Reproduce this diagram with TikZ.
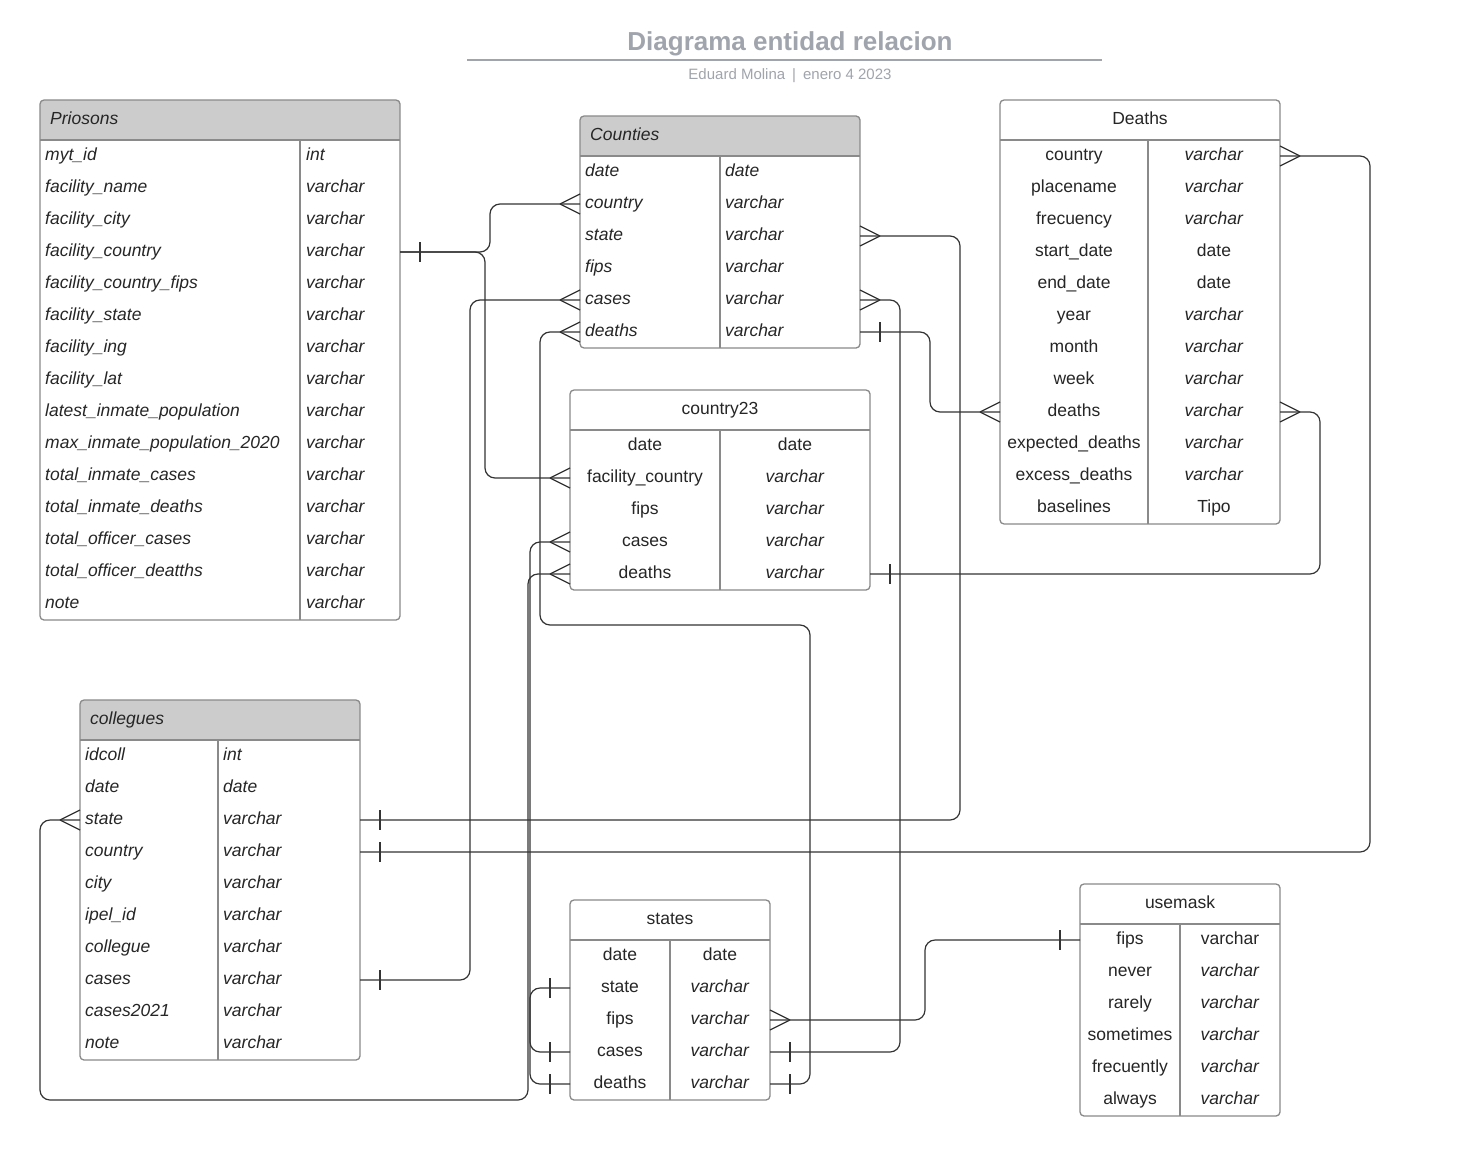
\documentclass[tikz,border=0pt]{standalone}
\usepackage{fontspec}
\setmainfont{Liberation Sans}
\usetikzlibrary{calc}
\definecolor{hdrgray}{HTML}{CCCCCC}
\definecolor{tline}{HTML}{8A8A8A}
\definecolor{cline}{HTML}{333333}
\definecolor{ttl}{HTML}{A0A4AC}
\definecolor{txt}{HTML}{262626}
\newcommand\rowfont{\fontsize{17.5}{20}\selectfont}
\newcommand\vc{\textit{varchar}}
\tikzset{
  conn/.style={draw=cline, line width=1.2pt, rounded corners=10},
  ermk/.style={draw=cline, line width=1.2pt},
  frame/.style={draw=tline, line width=1.3pt},
  rowbox/.style={minimum width=#1, minimum height=32, inner sep=0, outer sep=0, draw=none},
  cell/.style={inner sep=0, font=\rowfont, text height=12, text depth=4, text=txt},
  celli/.style={cell, font=\rowfont\itshape},
}
\newcommand\crowW[1]{\draw[ermk] ($(#1.west)+(-20,0)$) -- ($(#1.west)+(0,-10)$) ($(#1.west)+(-20,0)$) -- ($(#1.west)+(0,10)$);}
\newcommand\crowE[1]{\draw[ermk] ($(#1.east)+(20,0)$) -- ($(#1.east)+(0,-10)$) ($(#1.east)+(20,0)$) -- ($(#1.east)+(0,10)$);}
\newcommand\barW[1]{\draw[ermk] ($(#1.west)+(-20,-10)$) -- ($(#1.west)+(-20,10)$);}
\newcommand\barE[1]{\draw[ermk] ($(#1.east)+(20,-10)$) -- ($(#1.east)+(20,10)$);}
\newcommand\erframe[6]{%
  \begin{scope}\clip[rounded corners=4] (#1,#2) rectangle (#3,#4); \fill[#6] (#1,#2) rectangle (#3,{#2+40}); \end{scope}
  \draw[frame, rounded corners=4] (#1,#2) rectangle (#3,#4);
  \draw[frame] (#1,{#2+40}) -- (#3,{#2+40}) (#5,{#2+40}) -- (#5,#4);
}
\begin{document}
\begin{tikzpicture}[x=1pt,y=-1pt]
\useasboundingbox[fill=white] (0,0) rectangle (1458,1156);

% title
\node[font=\fontsize{26}{30}\selectfont\bfseries, text=ttl] (title) at (790,44) {Diagrama entidad relacion};
\coordinate (tl1) at (467,60); \coordinate (tl2) at (1102,60);
\draw[draw=ttl, line width=2pt] (tl1) -- (tl2);
\node[font=\fontsize{15}{17}\selectfont, text=ttl] (subtitle) at (790,76) {Eduard Molina\hspace{7pt}|\hspace{7pt}enero 4 2023};

% frames
\erframe{40}{100}{400}{620}{300}{hdrgray}
\erframe{580}{116}{860}{348}{720}{hdrgray}
\erframe{1000}{100}{1280}{524}{1148}{white}
\erframe{570}{390}{870}{590}{720}{white}
\erframe{80}{700}{360}{1060}{218}{hdrgray}
\erframe{570}{900}{770}{1100}{670}{white}
\erframe{1080}{884}{1280}{1116}{1180}{white}

% titles
\node[celli, anchor=west] (Ptitle) at (50,120) {Priosons};
\node[celli, anchor=west] (Ctitle) at (590,136) {Counties};
\node[cell] (Dtitle) at (1140,120) {Deaths};
\node[cell] (Ktitle) at (720,410) {country23};
\node[celli, anchor=west] (Gtitle) at (90,720) {collegues};
\node[cell] (Stitle) at (670,920) {states};
\node[cell] (Utitle) at (1180,904) {usemask};

% Priosons
\foreach \a/\b [count=\i] in {myt\_id/int, facility\_name/varchar, facility\_city/varchar, facility\_country/varchar, facility\_country\_fips/varchar, facility\_state/varchar, facility\_ing/varchar, facility\_lat/varchar, latest\_inmate\_population/varchar, max\_inmate\_population\_2020/varchar, total\_inmate\_cases/varchar, total\_inmate\_deaths/varchar, total\_officer\_cases/varchar, total\_officer\_deatths/varchar, note/varchar}{
  \node[rowbox=360] (P\i) at (220,{124+32*\i}) {};
  \node[celli, anchor=west] (P\i-a) at (45,{124+32*\i}) {\a};
  \node[celli, anchor=west] (P\i-b) at (306,{124+32*\i}) {\b};
}
% Counties
\foreach \a/\b [count=\i] in {date/date, country/varchar, state/varchar, fips/varchar, cases/varchar, deaths/varchar}{
  \node[rowbox=280] (C\i) at (720,{140+32*\i}) {};
  \node[celli, anchor=west] (C\i-a) at (585,{140+32*\i}) {\a};
  \node[celli, anchor=west] (C\i-b) at (725,{140+32*\i}) {\b};
}
% Deaths
\foreach \a/\b [count=\i] in {country/\vc, placename/\vc, frecuency/\vc, start\_date/date, end\_date/date, year/\vc, month/\vc, week/\vc, deaths/\vc, expected\_deaths/\vc, excess\_deaths/\vc, baselines/Tipo}{
  \node[rowbox=280] (D\i) at (1140,{124+32*\i}) {};
  \node[cell] (D\i-a) at (1074,{124+32*\i}) {\a};
  \node[cell] (D\i-b) at (1214,{124+32*\i}) {\b};
}
% country23
\foreach \a/\b [count=\i] in {date/date, facility\_country/\vc, fips/\vc, cases/\vc, deaths/\vc}{
  \node[rowbox=300] (K\i) at (720,{414+32*\i}) {};
  \node[cell] (K\i-a) at (645,{414+32*\i}) {\a};
  \node[cell] (K\i-b) at (795,{414+32*\i}) {\b};
}
% collegues
\foreach \a/\b [count=\i] in {idcoll/int, date/date, state/varchar, country/varchar, city/varchar, ipel\_id/varchar, collegue/varchar, cases/varchar, cases2021/varchar, note/varchar}{
  \node[rowbox=280] (G\i) at (220,{724+32*\i}) {};
  \node[celli, anchor=west] (G\i-a) at (85,{724+32*\i}) {\a};
  \node[celli, anchor=west] (G\i-b) at (223,{724+32*\i}) {\b};
}
% states
\foreach \a/\b [count=\i] in {date/date, state/\vc, fips/\vc, cases/\vc, deaths/\vc}{
  \node[rowbox=200] (S\i) at (670,{924+32*\i}) {};
  \node[cell] (S\i-a) at (620,{924+32*\i}) {\a};
  \node[cell] (S\i-b) at (720,{924+32*\i}) {\b};
}
% usemask
\foreach \a/\b [count=\i] in {fips/varchar, never/\vc, rarely/\vc, sometimes/\vc, frecuently/\vc, always/\vc}{
  \node[rowbox=200] (U\i) at (1180,{908+32*\i}) {};
  \node[cell] (U\i-a) at (1130,{908+32*\i}) {\a};
  \node[cell] (U\i-b) at (1230,{908+32*\i}) {\b};
}

% connectors
\draw[conn] (P4.east) -- (490,252) -- (490,204) -- (C2.west);
\draw[conn] (P4.east) -- (485,252) -- (485,478) -- (K2.west);
\draw[conn] (C5.west) -- (470,300) -- (470,980) -- (G8.east);
\draw[conn] (C6.west) -- (540,332) -- (540,625) -- (810,625) -- (810,1084) -- (S5.east);
\draw[conn] (C3.east) -- (960,236) -- (960,820) -- (G3.east);
\draw[conn] (C5.east) -- (900,300) -- (900,1052) -- (S4.east);
\draw[conn] (C6.east) -- (930,332) -- (930,412) -- (D9.west);
\draw[conn] (D1.east) -- (1370,156) -- (1370,852) -- (G4.east);
\draw[conn] (D9.east) -- (1320,412) -- (1320,574) -- (K5.east);
\draw[conn] (K4.west) -- (530,542) -- (530,1084) -- (S5.west);
\draw[conn] (K5.west) -- (528,574) -- (528,1100) -- (40,1100) -- (40,820) -- (G3.west);
\draw[conn] (S2.west) -- (530,988) -- (530,1052) -- (S4.west);
\draw[conn] (S3.east) -- (925,1020) -- (925,940) -- (U1.west);

% ends
\crowW{C2} \crowW{C5} \crowW{C6}
\crowE{C3} \crowE{C5} \barE{C6}
\crowW{D9} \crowE{D1} \crowE{D9}
\crowW{K2} \crowW{K4} \crowW{K5} \barE{K5}
\barE{P4}
\crowW{G3} \barE{G3} \barE{G4} \barE{G8}
\barW{S2} \barW{S4} \barW{S5} \crowE{S3} \barE{S4} \barE{S5}
\barW{U1}
\end{tikzpicture}
\end{document}
